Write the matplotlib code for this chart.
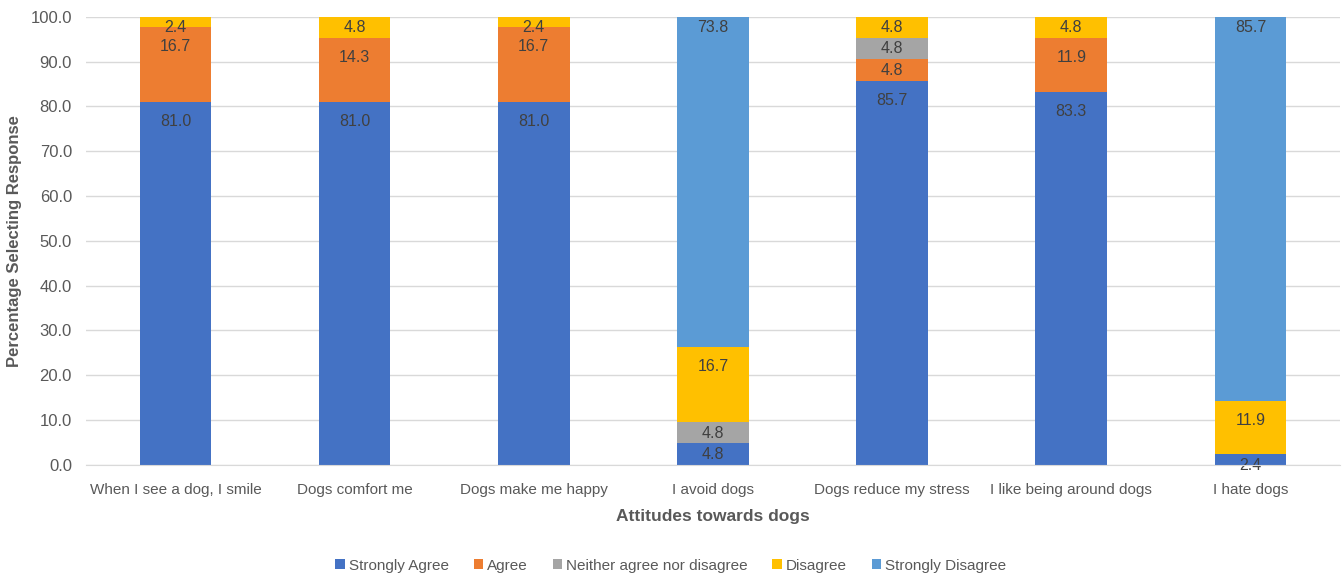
import matplotlib
matplotlib.use("Agg")
import matplotlib.pyplot as plt
import numpy as np

categories = [
    "When I see a dog, I smile",
    "Dogs comfort me",
    "Dogs make me happy",
    "I avoid dogs",
    "Dogs reduce my stress",
    "I like being around dogs",
    "I hate dogs",
]
series_names = ["Strongly Agree", "Agree", "Neither agree nor disagree", "Disagree", "Strongly Disagree"]
strongly_agree = [81.0, 81.0, 81.0, 4.8, 85.7, 83.3, 2.4]
agree = [16.7, 14.3, 16.7, 0.0, 4.8, 11.9, 0.0]
neither = [0.0, 0.0, 0.0, 4.8, 4.8, 0.0, 0.0]
disagree = [2.4, 4.8, 2.4, 16.7, 4.8, 4.8, 11.9]
strongly_disagree = [0.0, 0.0, 0.0, 73.8, 0.0, 0.0, 85.7]
colors = ["#4472C4", "#ED7D31", "#A5A5A5", "#FFC000", "#5B9BD5"]

plt.rcParams["font.family"] = ["Liberation Sans", "DejaVu Sans"]

fig = plt.figure(figsize=(13.42, 5.76), dpi=100)
ax = fig.add_axes([0.064, 0.193, 0.9345, 0.778])

x = np.arange(len(categories))
bottom = np.zeros(len(categories))
all_series = [strongly_agree, agree, neither, disagree, strongly_disagree]
for name, vals, col in zip(series_names, all_series, colors):
    vals = np.array(vals)
    ax.bar(x, vals, 0.4, bottom=bottom, color=col, label=name, zorder=2)
    for xi, b, v in zip(x, bottom, vals):
        if v <= 0:
            continue
        top = min(b + v, 100.0)
        # labels sit near the top of each segment
        if top >= 99.5 or v < 10:
            off = 2.5
        else:
            off = 4.4
        ax.text(xi, top - off, f"{v:.1f}", ha="center", va="center",
                fontsize=11.5, color="#404040", zorder=3)
    bottom = bottom + vals

ax.set_xlim(-0.5, len(categories) - 0.5)
ax.set_ylim(0, 100)
ax.set_yticks(np.arange(0, 101, 10))
ax.set_yticklabels([f"{t:.1f}" for t in np.arange(0, 101, 10)])
ax.set_xticks(x)
ax.set_xticklabels(categories)
ax.tick_params(axis="y", length=0, labelsize=12, colors="#595959", pad=10)
ax.tick_params(axis="x", length=0, labelsize=11, colors="#595959", pad=13)
ax.yaxis.grid(True, color="#D9D9D9", lw=1, zorder=0)
for s in ["top", "right", "left"]:
    ax.spines[s].set_visible(False)
ax.spines["bottom"].set_color("#D9D9D9")
ax.spines["bottom"].set_zorder(4)

ax.set_xlabel("Attitudes towards dogs", fontsize=12.5, fontweight="bold", color="#595959", labelpad=9)
ax.set_ylabel("Percentage Selecting Response", fontsize=12, fontweight="bold", color="#595959", labelpad=6)

fig.legend(*ax.get_legend_handles_labels(), loc="center", bbox_to_anchor=(0.5, 0.018), ncol=5,
           frameon=False, fontsize=11, handlelength=0.6, handleheight=0.6, handletextpad=0.3,
           columnspacing=1.6, labelcolor="#595959")

fig.savefig("out.png", dpi=100)
